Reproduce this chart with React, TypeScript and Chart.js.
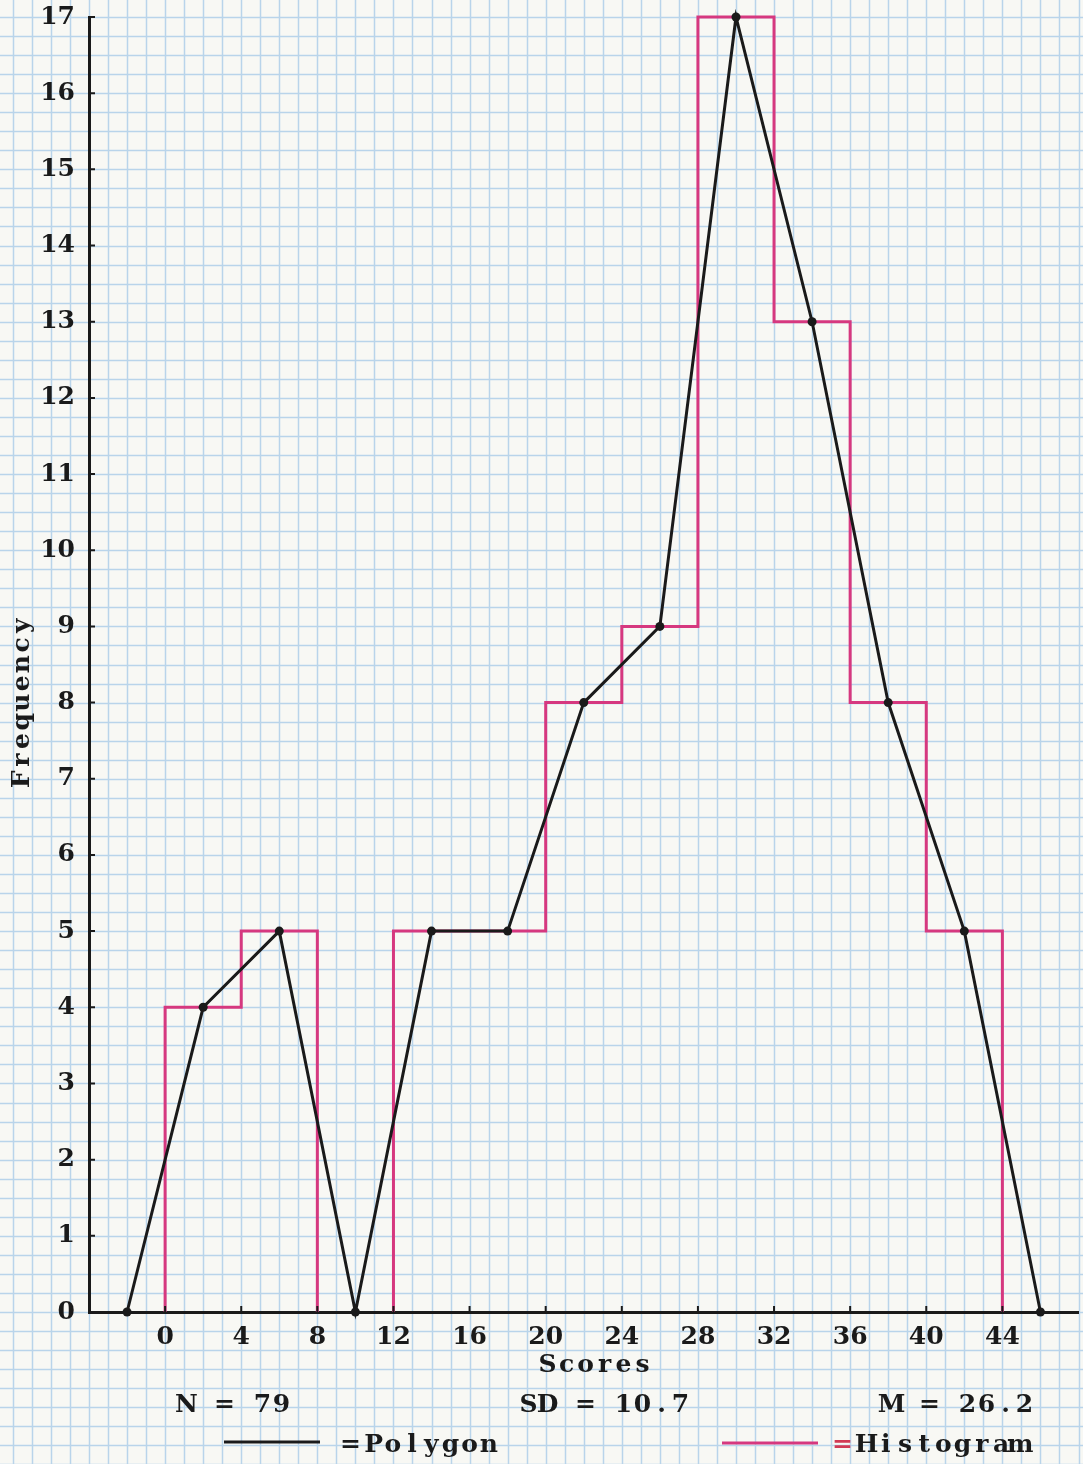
import React, { useEffect, useRef } from 'react';
import { Chart, registerables } from 'chart.js';

Chart.register(...registerables);

// ---- data ----
const binStarts = [0, 4, 8, 12, 16, 20, 24, 28, 32, 36, 40];
const binWidth = 4;
const binFreqs = [4, 5, 0, 5, 5, 8, 9, 17, 13, 8, 5];
const polygonX = [-2, 2, 6, 10, 14, 18, 22, 26, 30, 34, 38, 42, 46];
const polygonY = [0, 4, 5, 0, 5, 5, 8, 9, 17, 13, 8, 5, 0];
const xTickValues = [0, 4, 8, 12, 16, 20, 24, 28, 32, 36, 40, 44];
const yTickValues = [0, 1, 2, 3, 4, 5, 6, 7, 8, 9, 10, 11, 12, 13, 14, 15, 16, 17];
const xTitle = 'Scores';
const yTitle = 'Frequency';
const statLabels = ['N = 79', 'SD = 10.7', 'M = 26.2'];
const legendLabels = ['Polygon', 'Histogram'];

const FONT = '"DejaVu Serif", serif';
const INK = '#1a1a1a';
const PINK = '#d6387f';
const RED = '#d23a55';
const PAPER = '#f8f8f4';
const GRID = '#b9d4ea';

function buildHistogramOutline() {
  const pts: { x: number; y: number | null }[] = [];
  let prev = 0;
  binStarts.forEach((s, i) => {
    const f = binFreqs[i];
    const e = s + binWidth;
    if (f === 0) {
      pts.push({ x: s, y: prev }, { x: s, y: 0 }, { x: s, y: null });
      prev = 0;
      return;
    }
    pts.push({ x: s, y: prev }, { x: s, y: f }, { x: e, y: f });
    prev = f;
  });
  const last = binStarts[binStarts.length - 1] + binWidth;
  pts.push({ x: last, y: 0 });
  return pts;
}

function typeText(ctx: CanvasRenderingContext2D, text: string, left: number, cy: number, adv: number) {
  ctx.textAlign = 'center';
  ctx.textBaseline = 'middle';
  Array.from(text).forEach((ch, i) => {
    if (ch !== ' ') ctx.fillText(ch, left + adv * (i + 0.5), cy);
  });
}

const paperPlugin = {
  id: 'paper',
  beforeDraw(chart: any) {
    const { ctx, width, height } = chart;
    const xs = chart.scales.x;
    const ys = chart.scales.y;
    ctx.save();
    ctx.fillStyle = PAPER;
    ctx.fillRect(0, 0, width, height);
    ctx.strokeStyle = GRID;
    ctx.lineWidth = 1.5;
    ctx.beginPath();
    for (let k = -12; k <= 52; k++) {
      const px = Math.round(xs.getPixelForValue(k)) + 0.5;
      if (px < -2 || px > width + 2) continue;
      ctx.moveTo(px, 0);
      ctx.lineTo(px, height);
    }
    for (let v = -3; v <= 17.5; v += 0.25) {
      const py = Math.round(ys.getPixelForValue(v)) + 0.5;
      if (py < -2 || py > height + 2) continue;
      ctx.moveTo(0, py);
      ctx.lineTo(width, py);
    }
    ctx.stroke();
    ctx.restore();
  },
};

const notesPlugin = {
  id: 'notes',
  afterDraw(chart: any) {
    const { ctx } = chart;
    const xs = chart.scales.x;
    const ys = chart.scales.y;
    const area = chart.chartArea;
    ctx.save();
    // tick marks
    ctx.strokeStyle = INK;
    ctx.lineWidth = 2;
    ctx.beginPath();
    xTickValues.forEach((v) => {
      const px = xs.getPixelForValue(v);
      ctx.moveTo(px, area.bottom);
      ctx.lineTo(px, area.bottom - 6);
    });
    yTickValues.forEach((v) => {
      const py = ys.getPixelForValue(v);
      ctx.moveTo(area.left, py);
      ctx.lineTo(area.left + 6, py);
    });
    ctx.stroke();

    ctx.fillStyle = INK;
    ctx.font = `bold 25px ${FONT}`;
    // axis titles
    typeText(ctx, xTitle, 538, 1365, 19);
    ctx.save();
    ctx.translate(22, 703);
    ctx.rotate(-Math.PI / 2);
    typeText(ctx, yTitle, -86, 0, 19.2);
    ctx.restore();
    // stats
    typeText(ctx, statLabels[0], 177, 1405, 19);
    typeText(ctx, statLabels[1], 519, 1405, 19);
    typeText(ctx, statLabels[2], 882, 1405, 19);
    // legend
    ctx.lineWidth = 3;
    ctx.strokeStyle = INK;
    ctx.beginPath();
    ctx.moveTo(224, 1442);
    ctx.lineTo(320, 1442);
    ctx.stroke();
    typeText(ctx, '=', 341, 1445, 19);
    typeText(ctx, legendLabels[0], 364, 1445, 19.2);

    ctx.strokeStyle = PINK;
    ctx.beginPath();
    ctx.moveTo(722, 1443);
    ctx.lineTo(818, 1443);
    ctx.stroke();
    ctx.fillStyle = RED;
    typeText(ctx, '=', 833, 1445, 19);
    ctx.fillStyle = INK;
    typeText(ctx, legendLabels[1], 857, 1445, 19.2);
    ctx.restore();
  },
};

export default function App() {
  const ref = useRef<HTMLCanvasElement | null>(null);
  useEffect(() => {
    document.body.style.margin = '0';
    const canvas = ref.current!;
    const chart = new Chart(canvas, {
      type: 'line',
      data: {
        datasets: [
          {
            label: legendLabels[0],
            data: polygonX.map((x, i) => ({ x, y: polygonY[i] })),
            borderColor: INK,
            borderWidth: 3,
            pointRadius: 4.5,
            pointBackgroundColor: INK,
            pointBorderWidth: 0,
            fill: false,
            tension: 0,
            clip: false as any,
          },
          {
            label: legendLabels[1],
            data: buildHistogramOutline() as any,
            borderColor: PINK,
            borderWidth: 3,
            pointRadius: 0,
            fill: false,
            tension: 0,
            spanGaps: false,
            clip: false as any,
          },
        ],
      },
      options: {
        responsive: false,
        animation: false,
        events: [],
        layout: { padding: { top: 17, right: 0, bottom: 0, left: 0 } },
        plugins: { legend: { display: false }, tooltip: { enabled: false }, title: { display: false } },
        scales: {
          x: {
            type: 'linear',
            min: -4,
            max: 48,
            afterBuildTicks: (s: any) => {
              s.ticks = xTickValues.map((v) => ({ value: v }));
            },
            afterFit: (s: any) => {
              s.height = 152;
              s.paddingLeft = 0;
              s.paddingRight = 0;
            },
            grid: { display: false, drawTicks: false },
            border: { display: true, color: INK, width: 3 },
            ticks: {
              autoSkip: false,
              maxRotation: 0,
              padding: 10,
              color: INK,
              font: { family: FONT, size: 25, weight: 'bold' },
            },
          },
          y: {
            type: 'linear',
            min: 0,
            max: 17,
            afterBuildTicks: (s: any) => {
              s.ticks = yTickValues.map((v) => ({ value: v }));
            },
            afterFit: (s: any) => {
              s.width = 89;
              s.paddingTop = 0;
              s.paddingBottom = 0;
            },
            grid: { display: false, drawTicks: false },
            border: { display: true, color: INK, width: 3 },
            ticks: {
              autoSkip: false,
              padding: 14,
              color: INK,
              font: { family: FONT, size: 25, weight: 'bold' },
            },
          },
        },
      },
      plugins: [paperPlugin, notesPlugin],
    });
    return () => chart.destroy();
  }, []);
  return <canvas ref={ref} width={1083} height={1464} style={{ display: 'block' }} />;
}
